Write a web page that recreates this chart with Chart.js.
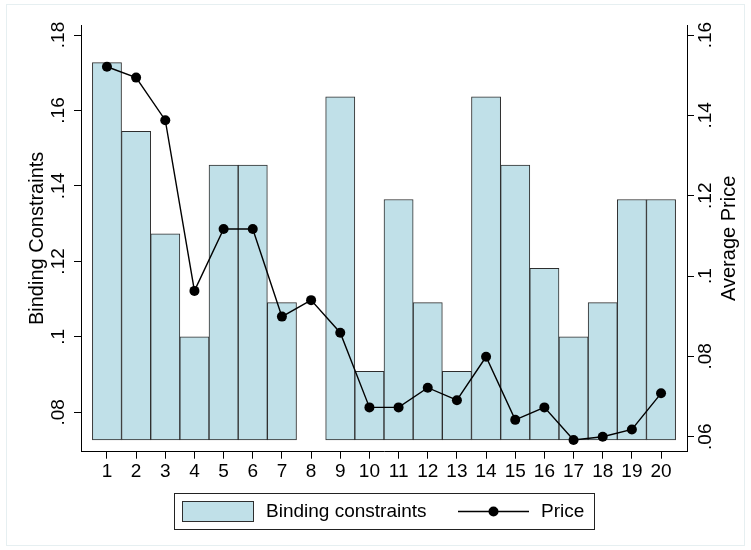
<!DOCTYPE html>
<html>
<head>
<meta charset="utf-8">
<script src="https://cdn.jsdelivr.net/npm/chart.js@4.4.1/dist/chart.umd.min.js"></script>
<style>
  body { margin: 0; background: #fff; }
  #wrap { width: 751px; height: 550px; }
</style>
</head>
<body>
<div id="wrap"><canvas id="myChart" width="751" height="550"></canvas></div>
<script>

var categories = [1, 2, 3, 4, 5, 6, 7, 8, 9, 10, 11, 12, 13, 14, 15, 16, 17, 18, 19, 20];
var bindingShare = [0.1727, 0.1545, 0.1273, 0.1000, 0.1455, 0.1455, 0.1091, null, 0.1636, 0.0909,
                    0.1364, 0.1091, 0.0909, 0.1636, 0.1455, 0.1182, 0.1000, 0.1091, 0.1364, 0.1364];
var barBase = 0.0727;
var avgPrice = [0.1521, 0.1494, 0.1388, 0.0963, 0.1117, 0.1117, 0.0899, 0.0940, 0.0859, 0.0673,
                0.0673, 0.0722, 0.0691, 0.0799, 0.0642, 0.0673, 0.0592, 0.0600, 0.0618, 0.0708];
var leftTicks = [0.08, 0.10, 0.12, 0.14, 0.16, 0.18];
var leftTickLabels = [".08", ".1", ".12", ".14", ".16", ".18"];
var rightTicks = [0.06, 0.08, 0.10, 0.12, 0.14, 0.16];
var rightTickLabels = [".06", ".08", ".1", ".12", ".14", ".16"];

var FONT = "'Liberation Sans', Arial, sans-serif";
var barFill = "#c0e0e8";
var barLine = "#2e2e2e";

function buildBars() {
  var out = [];
  for (var i = 0; i < categories.length; i++) {
    if (bindingShare[i] === null) continue;
    out.push({ x: categories[i], y: [barBase, bindingShare[i]] });
  }
  return out;
}

function buildLine() {
  var out = [];
  for (var i = 0; i < categories.length; i++) {
    out.push({ x: categories[i], y: avgPrice[i] });
  }
  return out;
}

function fixTicks(values) {
  return function (scale) {
    scale.ticks = values.map(function (v) { return { value: v }; });
  };
}

// rotated tick labels, axis titles, legend box and outer frame
var extras = {
  id: "extras",
  beforeDraw: function (chart) {
    var ctx = chart.ctx;
    ctx.save();
    ctx.fillStyle = "#fff";
    ctx.fillRect(0, 0, chart.width, chart.height);
    ctx.strokeStyle = "#e6eff1";
    ctx.lineWidth = 1;
    ctx.strokeRect(6.5, 4.5, 738, 541);
    ctx.restore();
  },
  afterDraw: function (chart) {
    var ctx = chart.ctx;
    var yl = chart.scales.y;
    var yr = chart.scales.y1;
    var area = chart.chartArea;
    var i, y;

    ctx.save();
    ctx.fillStyle = "#000";
    ctx.textAlign = "center";
    ctx.textBaseline = "alphabetic";

    ctx.font = "19px " + FONT;
    for (i = 0; i < leftTicks.length; i++) {
      y = yl.getPixelForValue(leftTicks[i]);
      ctx.save();
      ctx.translate(64, y);
      ctx.rotate(-Math.PI / 2);
      ctx.fillText(leftTickLabels[i], 0, 0);
      ctx.restore();
    }
    for (i = 0; i < rightTicks.length; i++) {
      y = yr.getPixelForValue(rightTicks[i]);
      ctx.save();
      ctx.translate(711, y);
      ctx.rotate(-Math.PI / 2);
      ctx.fillText(rightTickLabels[i], 0, 0);
      ctx.restore();
    }

    var midY = (area.top + area.bottom) / 2;
    ctx.font = "20px " + FONT;
    ctx.save();
    ctx.translate(43, midY);
    ctx.rotate(-Math.PI / 2);
    ctx.fillText("Binding Constraints", 0, 0);
    ctx.restore();
    ctx.save();
    ctx.translate(735, midY);
    ctx.rotate(-Math.PI / 2);
    ctx.fillText("Average Price", 0, 0);
    ctx.restore();

    // legend
    ctx.font = "19px " + FONT;
    ctx.strokeStyle = "#222";
    ctx.lineWidth = 1;
    ctx.strokeRect(174.5, 493.5, 420, 36);
    ctx.fillStyle = barFill;
    ctx.fillRect(182.5, 501.5, 71, 20);
    ctx.strokeStyle = barLine;
    ctx.strokeRect(182.5, 501.5, 71, 20);
    ctx.fillStyle = "#000";
    ctx.textAlign = "left";
    ctx.textBaseline = "middle";
    ctx.fillText("Binding constraints", 266, 512);
    ctx.beginPath();
    ctx.moveTo(458, 511.5);
    ctx.lineTo(529, 511.5);
    ctx.strokeStyle = "#000";
    ctx.lineWidth = 1.4;
    ctx.stroke();
    ctx.beginPath();
    ctx.arc(493.5, 511.5, 5, 0, Math.PI * 2);
    ctx.fill();
    ctx.fillText("Price", 541, 512);
    ctx.restore();
  }
};

function init() {
  var ctx = document.getElementById("myChart").getContext("2d");
  var chart = new Chart(ctx, {
    type: "bar",
    data: {
      datasets: [
        {
          type: "line",
          label: "Price",
          data: buildLine(),
          yAxisID: "y1",
          borderColor: "#000",
          backgroundColor: "#000",
          borderWidth: 1.4,
          pointRadius: 5,
          pointBackgroundColor: "#000",
          pointBorderWidth: 0,
          tension: 0,
          clip: false,
          order: 1
        },
        {
          type: "bar",
          label: "Binding constraints",
          data: buildBars(),
          yAxisID: "y",
          backgroundColor: barFill,
          borderColor: barLine,
          borderWidth: 1,
          borderSkipped: false,
          barPercentage: 1,
          categoryPercentage: 1,
          order: 2
        }
      ]
    },
    plugins: [extras],
    options: {
      responsive: false,
      animation: false,
      devicePixelRatio: 1,
      layout: { padding: { top: 25, left: 0, right: 0, bottom: 0 } },
      plugins: {
        legend: { display: false },
        tooltip: { enabled: false }
      },
      scales: {
        x: {
          type: "linear",
          offset: false,
          min: 0.11,
          max: 20.89,
          afterBuildTicks: fixTicks(categories),
          afterFit: function (scale) { scale.height = 98.3; },
          grid: { offset: false, drawOnChartArea: false, drawTicks: true, tickLength: 7, color: "#000" },
          border: { display: true, color: "#000", width: 1 },
          ticks: {
            color: "#000",
            font: { family: FONT, size: 19 },
            padding: 2,
            maxRotation: 0,
            autoSkip: false,
            callback: function (v) { return String(v); }
          }
        },
        y: {
          position: "left",
          min: 0.06958,
          max: 0.18265,
          afterBuildTicks: fixTicks(leftTicks),
          afterFit: function (scale) { scale.width = 81; },
          grid: { drawOnChartArea: false, drawTicks: true, tickLength: 7, color: "#000" },
          border: { display: true, color: "#000", width: 1 },
          ticks: { display: false }
        },
        y1: {
          position: "right",
          min: 0.05627,
          max: 0.1625,
          afterBuildTicks: fixTicks(rightTicks),
          afterFit: function (scale) { scale.width = 64; },
          grid: { drawOnChartArea: false, drawTicks: true, tickLength: 7, color: "#000" },
          border: { display: true, color: "#000", width: 1 },
          ticks: { display: false }
        }
      }
    }
  });
}

init();
</script>
</body>
</html>
